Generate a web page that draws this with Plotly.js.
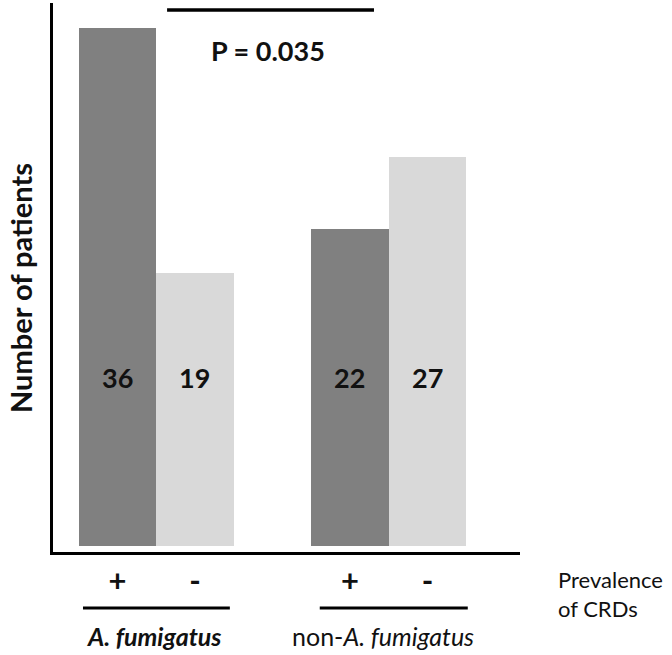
<!DOCTYPE html>
<html><head><meta charset="utf-8">
<script src="https://cdn.plot.ly/plotly-3.0.1.min.js"></script>
<style>html,body{margin:0;padding:0;background:#fff}#chart{width:672px;height:655px}</style>
</head><body><div id="chart"></div>
<script>
// Data
const groups = ["<b><i>A. fumigatus</i></b>", "non-<i>A. fumigatus</i>"];
const crdLabels = ["+", "-"];
const crdPositive = [36, 22];
const crdNegative = [19, 27];
const pText = "P = 0.035";
const yTitle = "Number of patients";
const xTitle = "Prevalence<br>of CRDs";

const FONT = "Lato, 'Open Sans', sans-serif";
const darkCol = "#808080", lightCol = "#d9d9d9";

// positions from group / sub-index
const xPos = groups.map((g, i) => i * 3);
const xNeg = groups.map((g, i) => i * 3 + 1);

const traces = [
  {type: "bar", x: xPos, y: crdPositive, width: 1, marker: {color: darkCol}, hoverinfo: "none"},
  {type: "bar", x: xNeg, y: crdNegative, width: 1, marker: {color: lightCol}, hoverinfo: "none"}
];

const plotW = 672 - 53 - 152, plotH = 655 - 3 - 103;
const ann = [];
const labelY = 11.7;
const numFont = {family: FONT, size: 27, color: "#111"};
crdPositive.forEach((v, i) => ann.push({x: xPos[i], y: labelY, xref: "x", yref: "y", text: "<b>" + v + "</b>", showarrow: false, font: numFont}));
crdNegative.forEach((v, i) => ann.push({x: xNeg[i], y: labelY, xref: "x", yref: "y", text: "<b>" + v + "</b>", showarrow: false, font: numFont}));
ann.push({x: 1.94, y: 34.4, xref: "x", yref: "y", text: "<b>" + pText + "</b>", showarrow: false, font: {family: FONT, size: 27, color: "#111"}});
ann.push({x: (20 - 53) / plotW, y: (552 - 288) / plotH, xref: "paper", yref: "paper", xanchor: "center", yanchor: "middle",
  text: "<b>" + yTitle + "</b>", textangle: -90, showarrow: false, font: {family: FONT, size: 29, color: "#111"}});
// group names
const grpX = [0.47, 3.43];
groups.forEach((g, i) => ann.push({x: grpX[i], y: (552 - 636) / plotH, xref: "x", yref: "paper", xanchor: "center", yanchor: "middle",
  text: g, showarrow: false, font: {family: FONT, size: 25, color: "#111"}}));
ann.push({x: (556 - 53) / plotW, y: (552 - 594) / plotH, xref: "paper", yref: "paper", text: xTitle, showarrow: false,
  align: "left", xanchor: "left", yanchor: "middle", font: {family: FONT, size: 22, color: "#111"}});

const lineY = (552 - 608) / plotH;
const layout = {
  width: 672, height: 655,
  margin: {l: 53, r: 152, t: 3, b: 103},
  paper_bgcolor: "#fff", plot_bgcolor: "#fff",
  showlegend: false,
  bargap: 0,
  xaxis: {
    range: [-0.832, 5.194], showgrid: false, zeroline: false,
    showline: true, linewidth: 3, linecolor: "#000",
    tickvals: xPos.concat(xNeg), ticktext: xPos.map(() => crdLabels[0]).concat(xNeg.map(() => crdLabels[1])),
    ticks: "", ticklabelstandoff: 0,
    tickfont: {family: FONT, size: 31, color: "#111", weight: "bold"}
  },
  yaxis: {
    range: [-0.417, 37.73], showgrid: false, zeroline: false,
    showline: true, linewidth: 3, linecolor: "#000",
    showticklabels: false, ticks: ""
  },
  shapes: [
    {type: "line", xref: "x", yref: "y", x0: 0.64, x1: 3.31, y0: 37.25, y1: 37.25, line: {color: "#000", width: 3.5}},
    {type: "line", xref: "x", yref: "paper", x0: -0.445, x1: 1.45, y0: lineY, y1: lineY, line: {color: "#000", width: 3}},
    {type: "line", xref: "x", yref: "paper", x0: 2.61, x1: 4.52, y0: lineY, y1: lineY, line: {color: "#000", width: 3}}
  ],
  annotations: ann
};

Plotly.newPlot("chart", traces, layout, {displayModeBar: false, staticPlot: true});
</script></body></html>
